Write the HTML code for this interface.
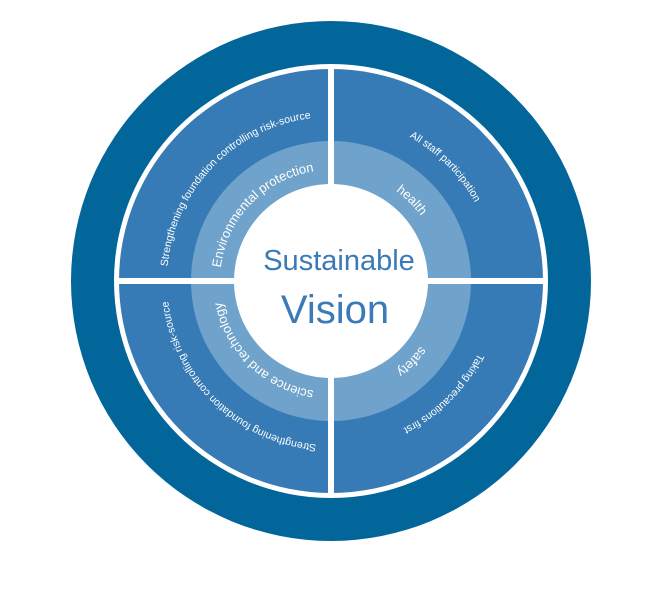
<!DOCTYPE html>
<html><head><meta charset="utf-8"><style>
html,body{margin:0;padding:0;background:#fff;width:672px;height:595px;overflow:hidden}
svg{display:block}
.o{font-family:"Liberation Sans",sans-serif;font-size:10.5px;fill:#fff}
.i{font-family:"Liberation Sans",sans-serif;font-size:13px;fill:#fff}
</style></head><body>
<svg width="672" height="595" viewBox="0 0 672 595" xmlns="http://www.w3.org/2000/svg">
<defs>
<path id="o1" d="M173.35,326.2 A164,164 0 0 1 370.7,121.9"/>
<path id="o2" d="M288.6,122.6 A164,164 0 0 1 489.4,323.4"/>
<path id="o3" d="M489.4,238.6 A164,164 0 0 1 288.6,439.4"/>
<path id="o4" d="M376.2,438.7 A164,164 0 0 1 171.9,241.3"/>
<path id="i1" d="M224.3,311.6 A111,111 0 0 1 357.9,173.3"/>
<path id="i2" d="M302.3,173.8 A111,111 0 0 1 438.2,309.7"/>
<path id="i3" d="M438.2,252.3 A111,111 0 0 1 302.3,388.2"/>
<path id="i4" d="M361.6,387.7 A111,111 0 0 1 223.3,254.1"/>
<clipPath id="c"><circle cx="331" cy="281" r="216"/></clipPath>
</defs>
<circle cx="331" cy="281" r="260" fill="#02669a"/>
<circle cx="331" cy="281" r="217" fill="#fff"/>
<circle cx="331" cy="281" r="212" fill="#367bb5"/>
<circle cx="331" cy="281" r="140" fill="#6fa3cb"/>
<g clip-path="url(#c)">
<rect x="328" y="60" width="6" height="445" fill="#fff"/>
<rect x="110" y="278" width="445" height="6" fill="#fff"/>
</g>
<circle cx="331" cy="281" r="97" fill="#fff"/>
<text class="o"><textPath href="#o1" startOffset="50%" text-anchor="middle">Strengthening foundation controlling risk-source</textPath></text>
<text class="o"><textPath href="#o2" startOffset="50%" text-anchor="middle">All staff participation</textPath></text>
<text class="o"><textPath href="#o3" startOffset="50%" text-anchor="middle">Taking precautions first</textPath></text>
<text class="o"><textPath href="#o4" startOffset="50%" text-anchor="middle">Strengthening foundation controlling risk-source</textPath></text>
<text class="i"><textPath href="#i1" startOffset="50%" text-anchor="middle">Environmental protection</textPath></text>
<text class="i"><textPath href="#i2" startOffset="50%" text-anchor="middle">health</textPath></text>
<text class="i"><textPath href="#i3" startOffset="50%" text-anchor="middle">safety</textPath></text>
<text class="i"><textPath href="#i4" startOffset="50%" text-anchor="middle">science and technology</textPath></text>
<text x="339" y="270" text-anchor="middle" font-family="Liberation Sans,sans-serif" font-size="29" fill="#3a7ab8">Sustainable</text>
<text x="335" y="323" text-anchor="middle" font-family="Liberation Sans,sans-serif" font-size="40" fill="#3a7ab8">Vision</text>
</svg>
</body></html>
